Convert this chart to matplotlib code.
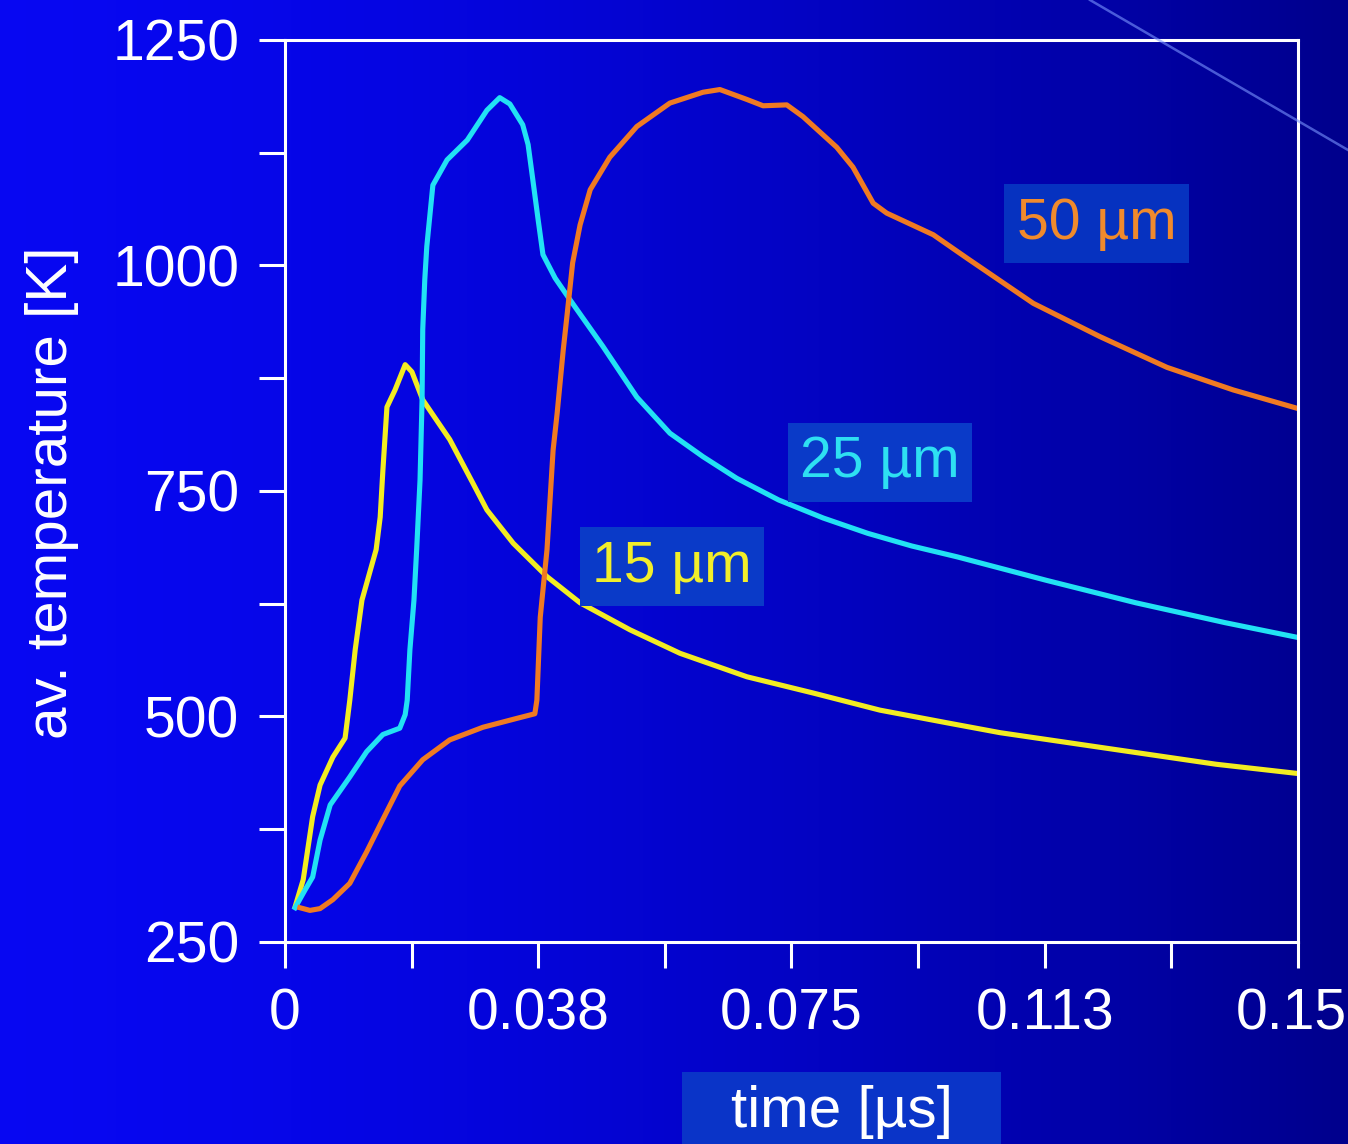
import numpy as np
import matplotlib.pyplot as plt
from matplotlib.lines import Line2D
from matplotlib.patches import Rectangle
from matplotlib.transforms import ScaledTranslation

plt.rcParams['font.family'] = ['Liberation Sans', 'DejaVu Sans']

# average temperature [K] vs time [µs] for three particle sizes
t_15 = [0.0015, 0.0027, 0.0041, 0.0052, 0.0071, 0.0089, 0.0096, 0.0104, 0.0114,
        0.0135, 0.0141, 0.0145, 0.0151, 0.0163, 0.0178, 0.0188, 0.0204, 0.0244,
        0.0278, 0.0299, 0.0338, 0.0388, 0.0437, 0.0511, 0.0585, 0.0684, 0.0782,
        0.0881, 0.0980, 0.1059, 0.1260, 0.1379, 0.1497]
T_15 = [289, 319, 389, 424, 455, 476, 518, 574, 629,
        685, 721, 773, 843, 862, 890, 882, 851, 807,
        759, 729, 692, 655, 626, 596, 570, 544, 526,
        507, 493, 482, 460, 447, 437]

t_25 = [0.0015, 0.0030, 0.0041, 0.0052, 0.0067, 0.0096, 0.0121, 0.0145, 0.0170,
        0.0178, 0.0181, 0.0185, 0.0191, 0.0195, 0.0200, 0.0203, 0.0204, 0.0207,
        0.0210, 0.0219, 0.0240, 0.0270, 0.0299, 0.0318, 0.0333, 0.0352, 0.0360,
        0.0367, 0.0375, 0.0382, 0.0400, 0.0422, 0.0471, 0.0521, 0.0570, 0.0619,
        0.0669, 0.0731, 0.0797, 0.0863, 0.0928, 0.0995, 0.1127, 0.1260, 0.1392,
        0.1497]
T_25 = [288, 308, 322, 363, 402, 433, 461, 480, 487,
        502, 518, 574, 629, 685, 762, 851, 929, 984,
        1021, 1089, 1117, 1139, 1172, 1186, 1179, 1156, 1134,
        1095, 1050, 1012, 986, 962, 910, 854, 814, 788,
        764, 740, 720, 703, 689, 677, 651, 626, 604,
        588]

t_50 = [0.0022, 0.0037, 0.0052, 0.0071, 0.0096, 0.0121, 0.0145, 0.0170, 0.0204,
        0.0244, 0.0293, 0.0344, 0.0370, 0.0373, 0.0378, 0.0388, 0.0397, 0.0403,
        0.0412, 0.0418, 0.0426, 0.0437, 0.0452, 0.0481, 0.0521, 0.0570, 0.0619,
        0.0644, 0.0684, 0.0708, 0.0743, 0.0767, 0.0817, 0.0841, 0.0871, 0.0891,
        0.0960, 0.1010, 0.1108, 0.1207, 0.1306, 0.1404, 0.1497]
T_50 = [288, 285, 287, 297, 315, 350, 386, 423, 452,
        474, 488, 498, 503, 518, 610, 685, 795, 836,
        906, 947, 1003, 1045, 1084, 1120, 1154, 1180, 1192,
        1195, 1184, 1177, 1178, 1165, 1131, 1109, 1069, 1058,
        1034, 1008, 958, 921, 887, 862, 842]

x_ticks = [0, 0.01875, 0.0375, 0.05625, 0.075, 0.09375, 0.1125, 0.13125, 0.15]
x_labels = ['0', '', '0.038', '', '0.075', '', '0.113', '', '0.15']
y_ticks = [250, 375, 500, 625, 750, 875, 1000, 1125, 1250]
y_labels = ['250', '', '500', '', '750', '', '1000', '', '1250']

fig = plt.figure(figsize=(13.48, 11.44), dpi=100)

# slide background: bright blue on the left fading to navy on the right
bg = fig.add_axes([0, 0, 1, 1], zorder=-1)
s = np.linspace(0, 1, 500)
grad = np.zeros((2, 500, 3))
grad[..., 0] = 0.03 * (1 - s)
grad[..., 1] = 0.03 * (1 - s)
grad[..., 2] = 0.95 - 0.40 * s ** 1.5
bg.imshow(grad, aspect='auto', extent=[0, 1, 0, 1])
bg.axis('off')

# faint diagonal streak in the top right corner
fig.add_artist(Line2D([1090 / 1348, 1.0], [1.0, 1 - 150 / 1144],
                      transform=fig.transFigure, color='#7b96ff', lw=1.8, alpha=0.6))

ax = fig.add_axes([0.2114, 0.1766, 0.7515, 0.7885])
ax.set_facecolor('none')

ax.plot(t_15, T_15, color='#f2ec22', lw=3.7, solid_joinstyle='round')
ax.plot(t_25, T_25, color='#22e2f4', lw=3.7, solid_joinstyle='round')
ax.plot(t_50, T_50, color='#f07a22', lw=3.7, solid_joinstyle='round')

ax.set_xlim(0, 0.15)
ax.set_ylim(250, 1250)
ax.set_xticks(x_ticks)
ax.set_xticklabels(x_labels)
ax.set_yticks(y_ticks)
ax.set_yticklabels(y_labels)

for sp in ax.spines.values():
    sp.set_color('white')
    sp.set_linewidth(2.2)
ax.tick_params(direction='out', length=19, width=2.2, color='white',
               labelcolor='white', labelsize=41, pad=14)

# nudge the last x label so it stays inside the figure
last = ax.get_xticklabels()[-1]
last.set_transform(last.get_transform() + ScaledTranslation(-0.07, 0, fig.dpi_scale_trans))

box = dict(boxstyle='square,pad=0.22', fc='#0a3ac8', ec='none')
ax.text(0.1202, 1046, '50 µm', color='#f08a2c', fontsize=41,
        ha='center', va='center', bbox=dict(box, fc='#0632c0'))
ax.text(0.0881, 782, '25 µm', color='#2ee0f2', fontsize=41,
        ha='center', va='center', bbox=box)
ax.text(0.0573, 666, '15 µm', color='#f2ee2a', fontsize=41,
        ha='center', va='center', bbox=box)

fig.add_artist(Rectangle((682 / 1348, 0), 318 / 1344, 72 / 1144,
                         transform=fig.transFigure, fc='#0a34c8', ec='none'))
fig.text(842 / 1348, 1 - 1112 / 1144, 'time [µs]', color='white', fontsize=42,
         ha='center', va='center')
fig.text(52 / 1348, 1 - 493 / 1144, 'av. temperature [K]', color='white',
         fontsize=42, rotation=90, ha='center', va='center')

fig.savefig('out.png', dpi=100)
